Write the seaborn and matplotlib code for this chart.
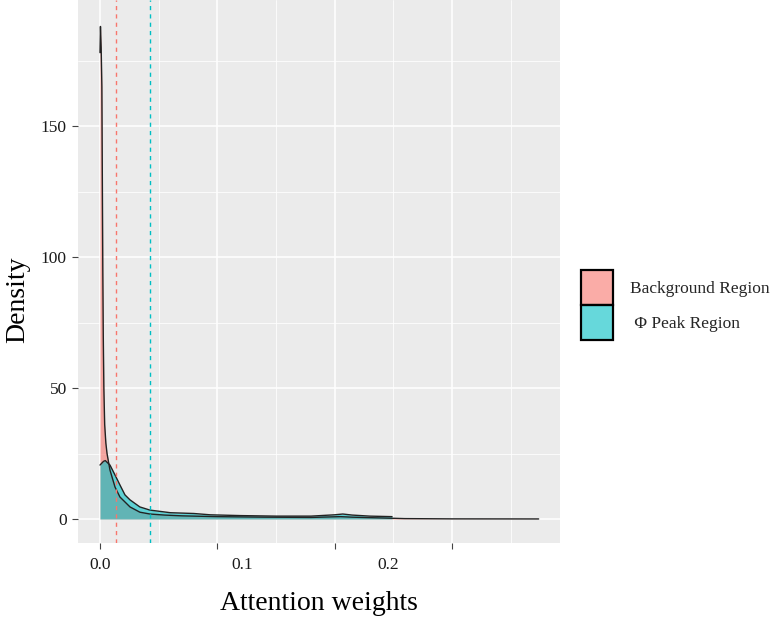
import numpy as np
import pandas as pd
import seaborn as sns
import matplotlib.pyplot as plt
from matplotlib.patches import Patch
from matplotlib.colors import to_rgba

# density curves
bg_x = [0.0, 0.0004, 0.0010, 0.0016, 0.0020, 0.0024, 0.0028, 0.0033, 0.0040, 0.0050,
        0.0060, 0.0085, 0.0128, 0.0170, 0.0256, 0.0340, 0.0426, 0.055, 0.07, 0.10,
        0.14, 0.18, 0.205, 0.215, 0.24, 0.26, 0.30, 0.374]
bg_d = [178, 188, 180, 165, 130, 95, 70, 50, 36, 29,
        25, 18.7, 12.2, 8.4, 4.6, 2.6, 1.9, 1.5, 1.2, 0.9,
        0.7, 0.6, 0.9, 0.7, 0.4, 0.15, 0.05, 0.02]

peak_x = [0.0, 0.0030, 0.0045, 0.0085, 0.0128, 0.0170, 0.0213, 0.0256, 0.0340, 0.0426,
          0.060, 0.080, 0.094, 0.12, 0.15, 0.18, 0.20, 0.207, 0.215, 0.23, 0.249]
peak_d = [20.6, 22.0, 22.3, 20.6, 16.8, 13.0, 9.2, 7.3, 4.6, 3.4,
          2.4, 2.1, 1.6, 1.3, 1.1, 1.1, 1.6, 1.9, 1.5, 1.1, 0.9]

# group means (dashed lines)
bg_mean = 0.0136
peak_mean = 0.0426

labels = ['Background Region', ' \u03a6 Peak Region']
colors = ['#F8766D', '#00BFC4']
xtick_text = ['0.0', '0.1', '0.2']
xtick_text_pos = [0.0, 0.1211, 0.2455]

sns.set_theme(style='darkgrid', rc={'axes.facecolor': '#EBEBEB'})
plt.rcParams['font.family'] = ['Liberation Serif', 'DejaVu Serif']

fig = plt.figure(figsize=(7.73, 6.21), dpi=100)
ax = fig.add_axes([78 / 773, 1 - 543 / 621, (560 - 78) / 773, 543 / 621])

# background region
ax.fill_between(bg_x, bg_d, color=colors[0], alpha=0.6, lw=0)
sns.lineplot(x=bg_x, y=bg_d, color='#222222', lw=1, ax=ax)
# peak region on top
ax.fill_between(peak_x, peak_d, color=colors[1], alpha=0.6, lw=0)
sns.lineplot(x=peak_x, y=peak_d, color='#222222', lw=1, ax=ax)

ax.axvline(bg_mean, color=colors[0], ls=(0, (3, 3)), lw=1)
ax.axvline(peak_mean, color=colors[1], ls=(0, (3, 3)), lw=1)

ax.set_xlim(-0.01875, 0.3922)
ax.set_ylim(-9.16, 198.1)

ax.set_xticks([0, 0.1, 0.2, 0.3])
ax.set_xticklabels([])
ax.set_xticks([0.05, 0.15, 0.25, 0.35], minor=True)
ax.set_yticks([0, 50, 100, 150])
ax.set_yticks([25, 75, 125, 175], minor=True)
ax.grid(which='major', color='white', lw=1.1)
ax.grid(which='minor', color='white', lw=0.55)
ax.tick_params(which='major', length=4, width=0.8, color='#444444', pad=4,
               labelsize=12.5, labelcolor='#1a1a1a', bottom=True, left=True)
ax.tick_params(which='minor', length=0)
for s in ax.spines.values():
    s.set_visible(False)

for t, p in zip(xtick_text, xtick_text_pos):
    ax.text(p, -0.0405, t, transform=ax.get_xaxis_transform(), ha='center', va='center',
            fontsize=12.5, color='#1a1a1a')

ax.set_xlabel('')
ax.set_ylabel('Density', fontsize=20, color='black')
ax.yaxis.set_label_coords(-0.1, 0.4475)
fig.text(319 / 773, 1 - 603 / 621, 'Attention weights', ha='center', va='center',
         fontsize=20, color='black')

handles = [Patch(facecolor=to_rgba(c, 0.6), edgecolor='black', lw=1.6) for c in colors]
fig.legend(handles, labels, loc='upper left', bbox_to_anchor=(581 / 773, 1 - 270 / 621),
           frameon=False, fontsize=12.5, handlelength=1.85, handleheight=2.7,
           labelspacing=0.03, handletextpad=0.95, borderpad=0, borderaxespad=0)

fig.savefig('out.png', dpi=100)
